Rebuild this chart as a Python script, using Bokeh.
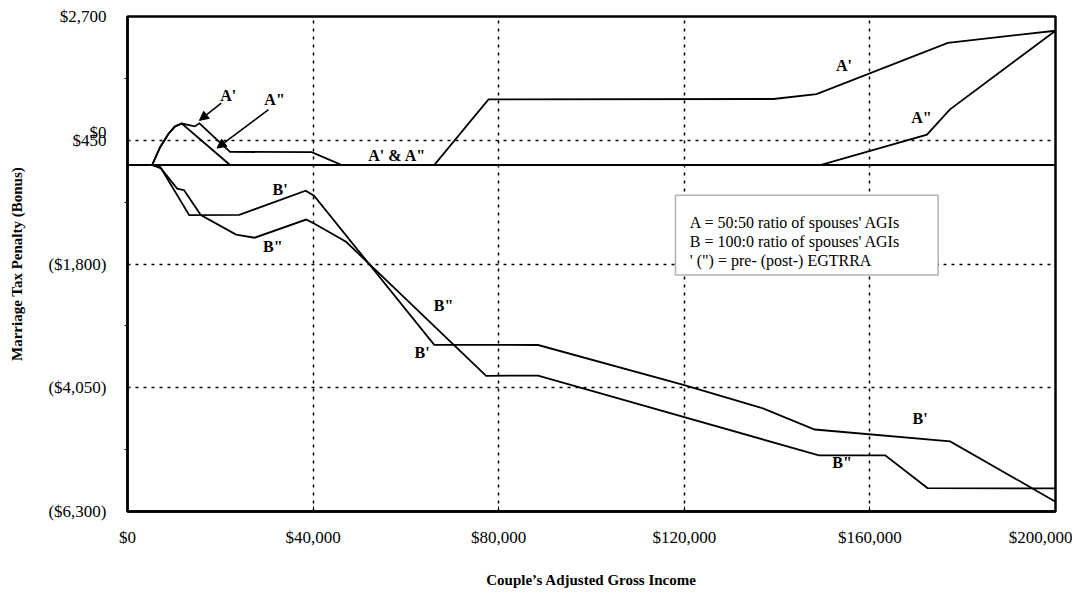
from bokeh.plotting import figure
from bokeh.models import FixedTicker, Label, Arrow, NormalHead, BoxAnnotation
from bokeh.embed import file_html
from bokeh.resources import INLINE

# ---- data (income in dollars, penalty(+)/bonus(-) in dollars) ----
income_a_pre = [0, 5300, 7000, 8800, 10200, 11700, 14500, 15500, 22100, 39700, 46200,
                66100, 77800, 139200, 148500, 176800, 200000]
penalty_a_pre = [0, 0, 320, 564, 698, 754, 702, 757, 238, 234, 0,
                 0, 1193, 1200, 1290, 2222, 2441]

income_a_post = [0, 5300, 7000, 8800, 10200, 11700, 22100, 149300, 172300, 177200, 200000]
penalty_a_post = [0, 0, 320, 564, 698, 754, 0, 0, 551, 1008, 2441]

income_b_pre = [0, 5300, 7000, 13300, 24100, 38400, 40200, 66100, 88500, 120000,
                136600, 148100, 177300, 200000]
penalty_b_pre = [0, 0, -30, -912, -905, -467, -557, -3269, -3273, -4001,
                 -4414, -4809, -5025, -6122]

income_b_post = [0, 5300, 7200, 10700, 12200, 15800, 23400, 27400, 38500, 40300, 47100,
                 77300, 88500, 149000, 163300, 172400, 200000]
penalty_b_post = [0, 0, -60, -430, -459, -909, -1265, -1322, -992, -1069, -1395,
                  -3833, -3828, -5280, -5278, -5874, -5880]

x_ticks = [0, 40000, 80000, 120000, 160000, 200000]
x_tick_labels = ["$0", "$40,000", "$80,000", "$120,000", "$160,000", "$200,000"]
y_ticks = [2700, 450, -1800, -4050, -6300]
y_tick_labels = ["$2,700", "$450", "($1,800)", "($4,050)", "($6,300)"]
zero_label = "$0"

legend_lines = ["A = 50:50 ratio of spouses' AGIs",
                "B = 100:0 ratio of spouses' AGIs",
                "' (\") = pre- (post-) EGTRRA"]

SERIF = "Liberation Serif"

p = figure(width=1072, height=592, x_range=(0, 200000), y_range=(-6300, 2700),
           output_backend="svg", toolbar_location=None,
           min_border_left=127, min_border_right=17, min_border_top=16, min_border_bottom=81,
           background_fill_color="white", border_fill_color="white")

p.outline_line_color = "black"
p.outline_line_width = 2.5

# axes ("$0" is drawn slightly above "$450", as in the original print)
zero_label_pos = 595
p.xaxis.ticker = FixedTicker(ticks=x_ticks)
p.xaxis.major_label_overrides = {t: l for t, l in zip(x_ticks, x_tick_labels)}
p.yaxis.ticker = FixedTicker(ticks=y_ticks + [zero_label_pos],
                             minor_ticks=[1575, -675, -2925, -5175])
overrides = {t: l for t, l in zip(y_ticks, y_tick_labels)}
overrides[zero_label_pos] = zero_label
p.yaxis.major_label_overrides = overrides

for ax in (p.xaxis, p.yaxis):
    ax.axis_line_color = "black"
    ax.axis_line_width = 2.5
    ax.major_label_text_font = SERIF
    ax.major_label_text_font_size = "17px"
    ax.major_label_text_color = "black"
    ax.axis_label_text_font = SERIF
    ax.axis_label_text_font_style = "bold"
    ax.axis_label_text_font_size = "15px"
    ax.axis_label_text_color = "black"
    ax.major_tick_line_color = "black"
    ax.minor_tick_line_color = "black"

p.xaxis.major_tick_in = 5
p.xaxis.major_tick_out = 0
p.xaxis.minor_tick_line_color = None
p.xaxis.major_label_standoff = 16
p.xaxis.axis_label = "Couple\u2019s Adjusted Gross Income"
p.xaxis.axis_label_standoff = 22

p.yaxis.major_tick_in = 0
p.yaxis.major_tick_out = 0
p.yaxis.minor_tick_in = 0
p.yaxis.minor_tick_out = 3
p.yaxis.major_label_standoff = 18
p.yaxis.axis_label = "Marriage Tax Penalty (Bonus)"
p.yaxis.axis_label_standoff = 20

# grid
p.xgrid.ticker = FixedTicker(ticks=x_ticks)
p.ygrid.ticker = FixedTicker(ticks=y_ticks)
for g in (p.xgrid, p.ygrid):
    g.grid_line_color = "black"
    g.grid_line_dash = "3 5"
    g.grid_line_width = 1.5

# zero line
p.line([0, 200000], [0, 0], line_color="black", line_width=1.8)

# series
for xs, ys in ((income_a_pre, penalty_a_pre), (income_a_post, penalty_a_post),
               (income_b_pre, penalty_b_pre), (income_b_post, penalty_b_post)):
    p.line(xs, ys, line_color="black", line_width=1.8, line_join="miter")

# series labels
series_labels = [
    ("A'", 21700, 1269), ("A\"", 31700, 1187), ("A' & A\"", 58100, 178),
    ("B'", 32900, -441), ("B\"", 31300, -1476), ("B\"", 68100, -2548),
    ("B'", 63500, -3405), ("A'", 154400, 1803), ("A\"", 171100, 858),
    ("B'", 170800, -4613), ("B\"", 154000, -5407),
]
for txt, lx, ly in series_labels:
    p.add_layout(Label(x=lx, y=ly, text=txt, text_align="center", text_baseline="middle",
                       text_font=SERIF, text_font_style="bold", text_font_size="16px",
                       text_color="black"))

# arrows
for xs_, ys_, xe, ye in ((20200, 1124, 15500, 811), (30400, 1006, 19300, 307)):
    p.add_layout(Arrow(end=NormalHead(size=9, fill_color="black", line_color="black"),
                       x_start=xs_, y_start=ys_, x_end=xe, y_end=ye,
                       line_color="black", line_width=1.5))

# legend box
p.add_layout(BoxAnnotation(left=118100, right=174700, top=-548, bottom=-2000,
                           fill_color="white", fill_alpha=1.0,
                           line_color="black", line_width=1.5))
for txt, ly in zip(legend_lines, [-1040, -1390, -1730]):
    p.add_layout(Label(x=121200, y=ly, text=txt, text_align="left", text_baseline="middle",
                       text_font=SERIF, text_font_size="16px", text_color="black"))

open("out.html", "w").write(file_html(p, INLINE))
